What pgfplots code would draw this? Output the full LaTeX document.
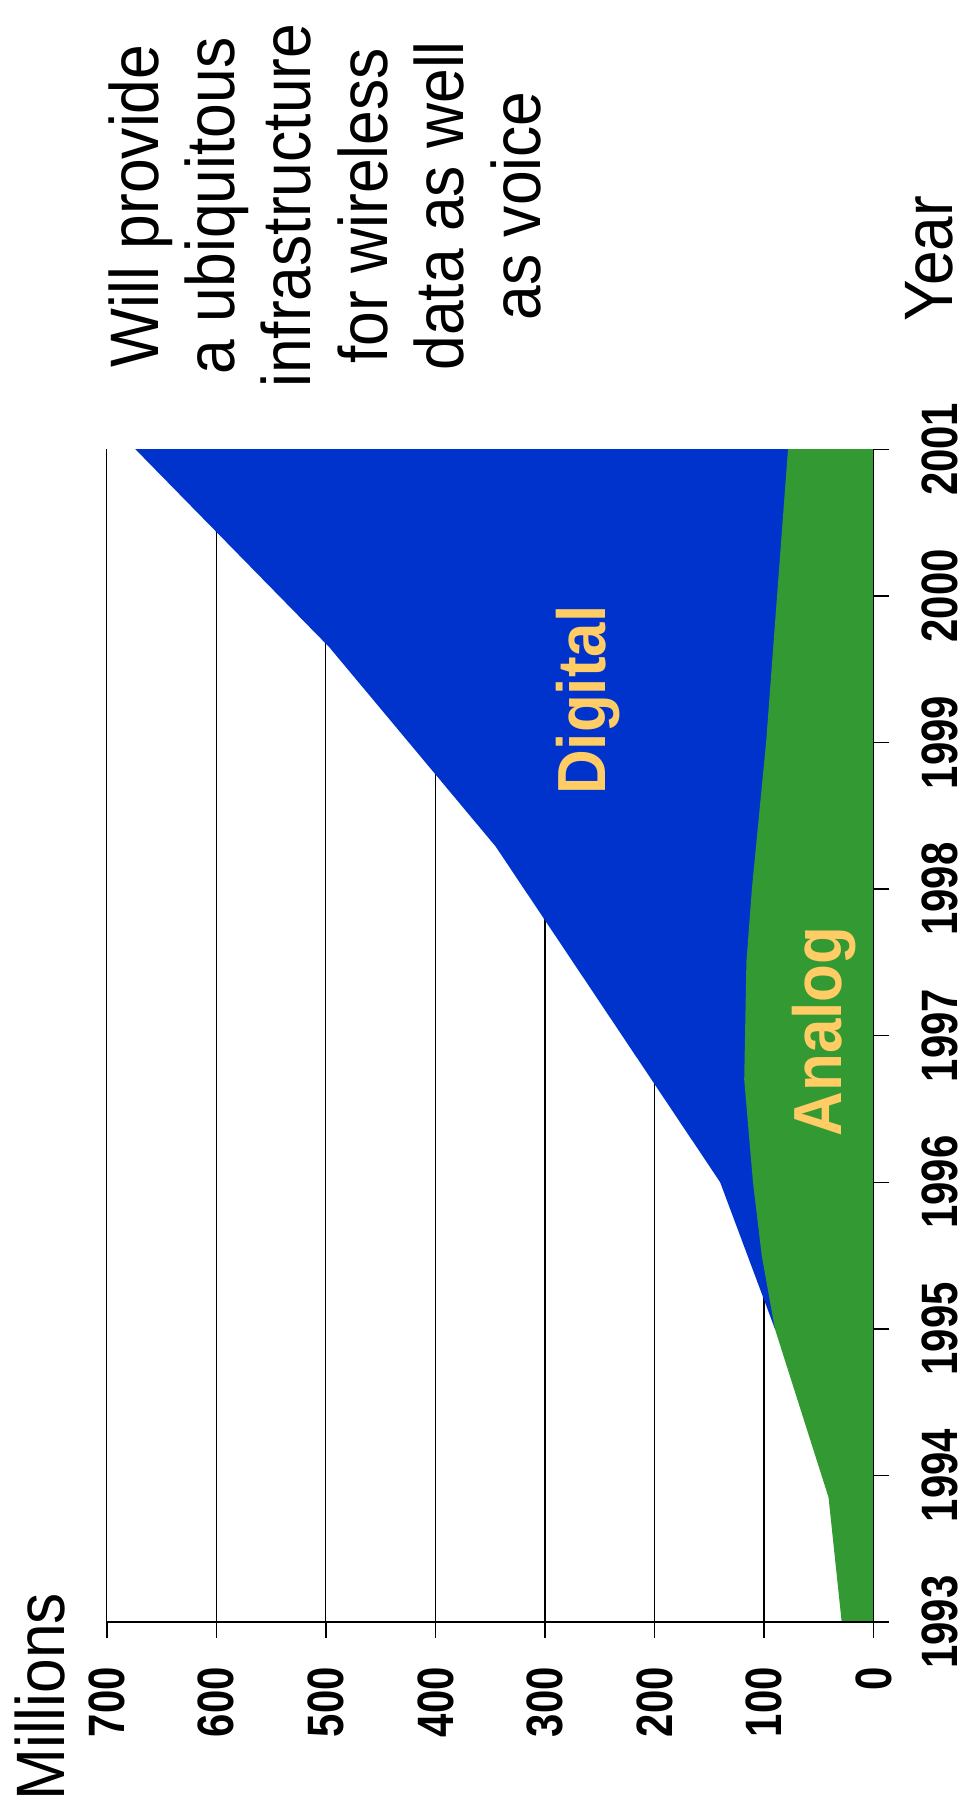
\documentclass[border=0pt]{standalone}
\usepackage{pgfplots}
\pgfplotsset{compat=1.18}
\usepackage{fontspec}
\setmainfont{Liberation Sans}
\definecolor{dblue}{RGB}{0,51,204}
\definecolor{agreen}{RGB}{51,153,51}
\definecolor{lyellow}{RGB}{255,204,102}
\begin{document}
\begin{tikzpicture}
\begin{axis}[
  scale only axis,
  width=384pt, height=587.5pt,
  xmin=0, xmax=700, ymin=1993, ymax=2001,
  x dir=reverse,
  clip=false,
  axis line style={draw=none},
  xtick={0,100,...,700},
  ytick={1993,1994,...,2001},
  xtick pos=bottom, ytick pos=right,
  tick align=outside,
  major tick length=8pt,
  major tick style={black, line width=0.7pt},
  xmajorgrids,
  major grid style={black, line width=0.6pt},
  /pgf/number format/assume math mode=true,
  /pgf/number format/1000 sep={},
  xticklabel style={font=\bfseries\fontsize{21pt}{21pt}\selectfont, rotate=90, yscale=1.22, anchor=east, inner sep=0pt},
  yticklabel style={font=\bfseries\fontsize{21pt}{21pt}\selectfont, rotate=90, yscale=1.22, anchor=north, inner sep=0pt},
  xticklabel shift=14.5pt,
  yticklabel shift=16pt,
]
% total (digital on top of analog)
\addplot[fill=dblue, draw=none] coordinates {(0,1995) (90,1995) (140,1996) (345,1998.29) (497,1999.65) (674,2001) (0,2001)} -- cycle;
% analog
\addplot[fill=agreen, draw=none] coordinates {(0,1993) (29,1993) (41,1993.85) (90,1995) (102,1995.5) (110,1996) (118,1996.7) (116,1997.5) (111,1998) (98,1999) (88,2000) (78,2001) (0,2001)} -- cycle;
\draw[black, line width=0.7pt] (axis cs:700,1993) -- (axis cs:0,1993) -- (axis cs:0,2001);
\node[font=\bfseries\fontsize{31pt}{31pt}\selectfont, text=lyellow, rotate=90, yscale=1.1, anchor=base west, inner sep=0pt] at (axis cs:244.3,1998.64) {Digital};
\node[font=\bfseries\fontsize{31pt}{31pt}\selectfont, text=lyellow, rotate=90, yscale=1.1, anchor=base west, inner sep=0pt] at (axis cs:29.2,1996.31) {Analog};
\node[font=\fontsize{31.2pt}{31.2pt}\selectfont, rotate=90, yscale=1.1, anchor=base west, inner sep=0pt] at (axis cs:738.3,1991.779) {Millions};
\node[font=\fontsize{31.2pt}{31.2pt}\selectfont, rotate=90, yscale=1.1, anchor=base west, inner sep=0pt] at (axis cs:-72,2001.868) {Year};
\node[font=\fontsize{31.25pt}{34.8pt}\selectfont, rotate=90, yscale=1.1, anchor=north, inner sep=0pt, align=center] at (axis cs:699,2002.66) {Will provide\\a ubiquitous\\infrastructure\\for wireless\\data as well\\as voice};
\path (axis cs:797.6,2004.064) rectangle (axis cs:-88.4,1991.663);
\end{axis}
\end{tikzpicture}
\end{document}
